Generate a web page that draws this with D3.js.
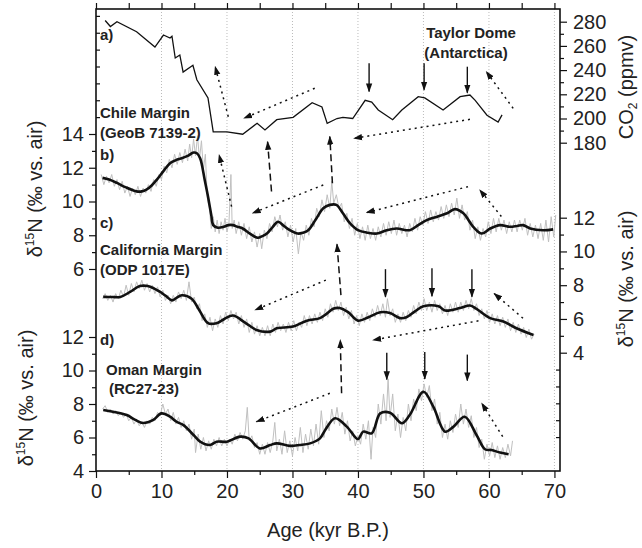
<!DOCTYPE html>
<html>
<head>
<meta charset="utf-8">
<script src="https://cdnjs.cloudflare.com/ajax/libs/d3/7.8.5/d3.min.js"></script>
<style>
body { margin: 0; background: #fff; }
svg { font-family: "Liberation Sans", Arial, sans-serif; }
.tick text { font-size: 20px; fill: #222; }
.tick line { stroke: #111; stroke-width: 1.2px; }
.lbl { font-size: 15px; font-weight: bold; fill: #222; }
.ttl { font-size: 20px; fill: #222; }
</style>
</head>
<body>
<script>
// a) Taylor Dome CO2 (ppmv)
var co2 = [[1.4,281],[2.2,276],[3.2,280],[6.2,271.7],[9.0,259],[10.3,269],[11.3,266.5],[11.6,268],[12.1,250],[12.8,252.5],[13.3,238.4],[14.8,244],[15.4,232],[17.1,217],[17.9,189],[20.0,189],[22.4,187],[24.6,196],[25.8,190.5],[27.6,199],[30.1,201],[33.0,213],[34.5,209.5],[35.3,196],[36.8,200],[37.7,201],[39.2,200],[41.1,215],[42.1,213.6],[43.1,207],[45.3,199],[46.7,207],[49.2,218],[50.2,217],[53.0,207],[55.6,218],[57.1,219.4],[57.9,215],[59.7,202.7],[61.4,197],[62.0,203]];

// b) Chile Margin d15N
var chileRaw = [[0.8,11.6],[1.2,11.0],[1.6,11.5],[2.0,11.1],[2.4,11.6],[2.8,10.9],[3.2,11.3],[3.6,10.7],[4.0,11.2],[4.4,10.5],[4.8,10.9],[5.2,10.3],[5.6,10.8],[6.0,10.4],[6.4,10.9],[6.8,10.3],[7.2,10.8],[7.6,10.5],[8.0,11.0],[8.4,10.6],[8.8,11.3],[9.2,10.9],[9.6,11.6],[10.0,11.3],[10.4,12.1],[10.8,11.7],[11.2,12.5],[11.6,12.0],[12.0,12.8],[12.4,12.2],[12.8,12.9],[13.2,12.3],[13.6,13.1],[14.0,12.4],[14.3,13.4],[14.6,12.6],[14.9,13.7],[15.2,12.7],[15.5,13.9],[15.8,12.5],[16.1,13.6],[16.4,11.9],[16.7,12.8],[17.0,10.2],[17.3,9.6],[17.6,8.4],[17.9,9.1],[18.2,8.2],[18.5,8.9],[18.8,8.1],[19.1,8.8],[19.4,8.3],[19.7,9.0],[20.0,8.2],[20.3,8.7],[20.6,11.6],[20.8,8.4],[21.1,8.9],[21.4,8.1],[21.8,8.8],[22.2,8.0],[22.6,8.7],[23.0,7.8],[23.4,8.5],[23.8,7.6],[24.2,8.2],[24.6,7.3],[25.0,8.1],[25.3,7.2],[25.7,8.3],[26.1,7.8],[26.5,8.7],[26.9,8.2],[27.3,9.1],[27.7,8.5],[28.1,9.2],[28.5,8.3],[28.9,8.8],[29.3,7.9],[29.7,8.6],[30.1,7.6],[30.5,8.4],[30.9,6.9],[31.3,8.2],[31.7,7.7],[32.1,8.6],[32.5,8.0],[32.9,9.0],[33.3,8.5],[33.7,9.6],[34.1,9.1],[34.5,10.1],[34.9,9.4],[35.3,10.4],[35.7,9.6],[36.0,11.2],[36.3,9.9],[36.7,10.4],[37.1,9.6],[37.5,9.9],[37.9,8.8],[38.3,9.3],[38.7,8.4],[39.1,9.0],[39.5,8.0],[39.9,8.7],[40.3,7.8],[40.7,8.5],[41.1,7.7],[41.5,8.6],[41.9,7.8],[42.3,8.4],[42.7,7.7],[43.1,8.5],[43.5,7.9],[43.9,8.7],[44.3,8.0],[44.7,8.8],[45.1,8.1],[45.5,8.9],[45.9,8.0],[46.3,8.7],[46.7,8.1],[47.1,8.6],[47.5,7.9],[47.9,8.7],[48.3,8.2],[48.7,9.0],[49.1,8.3],[49.5,9.1],[49.9,8.6],[50.3,9.4],[50.7,8.7],[51.1,9.5],[51.5,8.8],[51.9,9.4],[52.3,8.9],[52.7,9.7],[53.1,9.0],[53.5,9.8],[53.9,9.1],[54.3,9.9],[54.7,9.2],[55.1,10.2],[55.5,9.0],[55.9,9.8],[56.3,8.9],[56.7,9.4],[57.1,8.3],[57.5,8.9],[57.9,7.8],[58.3,8.5],[58.7,7.7],[59.1,8.4],[59.5,7.9],[59.9,8.8],[60.3,8.1],[60.7,9.0],[61.1,8.2],[61.5,9.0],[61.9,8.3],[62.3,8.9],[62.7,8.1],[63.1,8.8],[63.5,8.2],[63.9,8.9],[64.3,8.2],[64.7,8.9],[65.1,8.3],[65.5,9.0],[65.9,8.0],[66.3,8.7],[66.7,7.9],[67.1,8.6],[67.5,7.8],[67.9,8.7],[68.3,7.7],[68.7,8.9],[69.1,7.6],[69.5,9.1],[69.9,7.9],[70.2,9.2]];
var chileSmooth = [[1.0,11.4],[2.0,11.3],[3.2,11.1],[4.5,10.85],[6.2,10.6],[7.0,10.6],[7.7,10.7],[8.5,10.95],[9.3,11.3],[10.3,11.8],[11.3,12.27],[12.2,12.45],[13.1,12.56],[14.0,12.7],[14.9,12.9],[15.4,12.86],[15.9,12.56],[16.6,11.28],[17.1,10.3],[17.6,9.2],[17.9,8.6],[18.6,8.45],[19.5,8.5],[20.2,8.6],[20.9,8.6],[21.6,8.5],[22.4,8.4],[23.5,8.1],[24.7,7.85],[25.4,7.95],[26.1,8.1],[27.0,8.5],[27.8,8.8],[28.7,8.55],[29.6,8.3],[30.8,8.1],[31.6,8.15],[32.4,8.3],[33.5,8.9],[34.7,9.6],[35.7,9.8],[36.7,9.8],[37.7,9.3],[38.8,8.7],[40.0,8.3],[41.5,8.15],[42.9,8.1],[44.4,8.3],[45.9,8.4],[47.9,8.3],[49.2,8.6],[50.5,8.9],[52.1,9.1],[53.6,9.3],[54.8,9.55],[56.1,9.3],[57.6,8.5],[58.9,8.1],[60.2,8.4],[61.7,8.6],[63.2,8.5],[64.3,8.55],[65.2,8.6],[66.3,8.4],[68.3,8.3],[69.8,8.35]];

// c) California Margin d15N
var califRaw = [[1.0,7.2],[1.4,7.5],[1.8,7.1],[2.2,7.4],[2.6,7.0],[3.0,7.5],[3.4,7.2],[3.8,7.7],[4.2,7.3],[4.6,8.0],[5.0,7.4],[5.4,8.1],[5.8,7.6],[6.2,8.2],[6.6,7.8],[7.0,8.3],[7.4,7.7],[7.8,8.1],[8.2,7.6],[8.6,8.0],[9.0,7.5],[9.4,7.9],[9.8,7.3],[10.2,7.7],[10.6,7.1],[11.0,7.4],[11.4,6.9],[11.8,7.4],[12.2,7.0],[12.6,7.6],[13.0,7.2],[13.4,7.7],[13.8,7.1],[14.2,8.2],[14.6,7.0],[15.0,7.3],[15.4,6.6],[15.8,6.9],[16.2,5.9],[16.6,6.3],[17.0,5.5],[17.4,6.1],[17.8,5.3],[18.2,6.0],[18.6,5.5],[19.0,6.2],[19.4,5.7],[19.8,6.4],[20.2,5.9],[20.6,6.5],[21.0,6.0],[21.4,6.4],[21.8,5.7],[22.2,6.2],[22.6,5.5],[23.0,6.0],[23.4,5.2],[23.8,5.8],[24.2,5.1],[24.6,5.6],[25.0,5.0],[25.4,5.5],[25.8,5.0],[26.2,5.6],[26.6,5.0],[27.0,5.7],[27.4,5.2],[27.8,5.8],[28.2,5.3],[28.6,5.7],[29.0,5.2],[29.4,5.8],[29.8,5.3],[30.2,5.9],[30.6,5.3],[31.0,5.8],[31.4,5.5],[31.8,6.2],[32.2,5.6],[32.6,6.2],[33.0,5.7],[33.4,6.3],[33.8,5.8],[34.2,6.4],[34.6,5.9],[35.0,6.6],[35.4,6.1],[35.8,6.9],[36.2,6.4],[36.6,7.1],[37.0,6.5],[37.4,7.0],[37.8,6.2],[38.2,6.7],[38.6,6.0],[39.0,6.5],[39.4,5.7],[39.8,6.2],[40.2,5.6],[40.6,6.3],[41.0,5.8],[41.4,6.4],[41.8,5.9],[42.2,6.6],[42.6,6.1],[43.0,6.8],[43.4,6.2],[43.8,6.9],[44.2,6.1],[44.5,7.2],[44.9,6.2],[45.3,6.6],[45.7,5.8],[46.1,6.3],[46.5,5.8],[46.9,6.4],[47.3,5.9],[47.7,6.5],[48.1,6.1],[48.5,6.8],[48.9,6.3],[49.3,7.0],[49.7,6.5],[50.1,7.2],[50.5,6.5],[50.9,7.0],[51.3,6.4],[51.7,7.1],[52.1,6.5],[52.5,6.9],[52.9,6.3],[53.3,6.8],[53.7,6.2],[54.1,6.9],[54.5,6.4],[54.9,7.0],[55.3,6.4],[55.7,7.0],[56.1,6.5],[56.5,7.1],[56.9,6.6],[57.3,7.2],[57.7,6.5],[58.1,6.9],[58.5,6.2],[58.9,6.6],[59.3,6.0],[59.7,6.5],[60.1,5.8],[60.5,6.3],[60.9,5.7],[61.3,6.2],[61.7,5.6],[62.1,6.1],[62.5,5.5],[62.9,6.0],[63.3,5.3],[63.7,5.8],[64.1,5.2],[64.5,5.7],[64.9,5.1],[65.3,5.5],[65.7,4.9],[66.1,5.4],[66.5,4.8],[66.9,5.1]];
var califSmooth = [[1.1,7.31],[2.5,7.3],[3.7,7.3],[5.2,7.6],[6.7,7.95],[7.9,7.95],[8.9,7.8],[9.8,7.6],[10.7,7.35],[11.6,7.1],[12.3,7.25],[13.1,7.4],[14.6,7.2],[15.8,6.5],[17.1,5.75],[18.4,5.75],[19.6,6.0],[20.9,6.2],[22.7,5.8],[24.5,5.35],[26.6,5.25],[27.6,5.45],[30.1,5.55],[32.2,5.9],[34.2,6.05],[35.2,6.3],[36.2,6.6],[37.2,6.65],[38.5,6.4],[40.0,5.9],[41.6,6.1],[43.4,6.4],[44.9,6.35],[46.4,6.05],[47.4,6.1],[48.7,6.45],[50.0,6.75],[52.3,6.75],[53.3,6.5],[55.6,6.65],[57.1,6.8],[58.1,6.6],[60.2,6.05],[62.2,5.85],[64.2,5.45],[66.8,5.05]];

// d) Oman Margin d15N
var omanRaw = [[1.0,7.7],[1.4,7.9],[1.8,7.5],[2.2,7.7],[2.6,7.4],[3.0,7.6],[3.4,7.3],[3.8,7.5],[4.2,7.2],[4.6,7.4],[5.0,7.0],[5.4,7.2],[5.8,6.8],[6.2,7.1],[6.6,6.7],[7.0,6.9],[7.4,6.6],[7.8,7.0],[8.2,6.8],[8.6,7.2],[9.0,7.0],[9.4,7.5],[9.8,7.3],[10.2,8.0],[10.6,7.4],[11.0,7.7],[11.4,7.0],[11.8,7.5],[12.2,6.8],[12.6,7.2],[13.0,6.6],[13.4,7.0],[13.8,6.4],[14.2,6.8],[14.6,5.9],[15.0,6.5],[15.2,5.1],[15.6,6.2],[16.0,5.3],[16.4,6.0],[16.8,5.2],[17.2,5.8],[17.6,5.3],[18.0,5.9],[18.4,5.5],[18.8,6.0],[19.2,5.5],[19.6,5.9],[20.0,5.5],[20.4,5.9],[20.8,5.6],[21.2,6.2],[21.6,5.8],[22.0,6.3],[22.4,5.9],[22.8,6.4],[23.1,7.8],[23.4,5.8],[23.8,6.1],[24.2,5.4],[24.6,5.7],[25.0,5.0],[25.4,5.6],[25.8,5.0],[26.2,5.7],[26.6,5.1],[27.0,5.8],[27.3,6.9],[27.6,5.2],[28.0,5.9],[28.4,5.0],[28.8,6.4],[29.2,5.1],[29.6,5.8],[30.0,4.9],[30.4,6.0],[30.8,5.2],[31.2,6.6],[31.6,5.1],[32.0,6.2],[32.4,5.3],[32.8,6.5],[33.2,5.5],[33.6,6.8],[34.0,5.6],[34.4,7.6],[34.8,6.0],[35.2,7.0],[35.6,6.4],[36.0,7.7],[36.4,6.8],[36.8,7.8],[37.2,6.7],[37.6,7.5],[38.0,6.2],[38.4,7.0],[38.8,5.8],[39.2,6.4],[39.6,5.5],[40.0,6.1],[40.4,5.6],[40.8,6.8],[41.2,5.9],[41.6,7.0],[42.0,4.7],[42.3,6.6],[42.7,6.0],[43.1,8.0],[43.5,6.8],[43.9,8.6],[44.3,7.0],[44.6,9.5],[44.9,7.2],[45.3,8.6],[45.7,6.4],[46.1,7.4],[46.5,6.0],[46.9,7.2],[47.3,6.4],[47.7,8.0],[48.1,7.0],[48.5,8.3],[48.9,7.6],[49.3,8.9],[49.7,8.2],[50.1,9.2],[50.5,8.4],[50.9,9.1],[51.3,7.6],[51.7,8.3],[52.1,6.8],[52.5,7.5],[52.9,6.0],[53.3,6.8],[53.7,5.9],[54.1,7.0],[54.5,6.3],[54.9,7.4],[55.3,6.6],[55.7,8.0],[56.1,6.8],[56.5,7.7],[56.9,6.6],[57.3,7.3],[57.7,6.0],[58.1,6.6],[58.5,5.4],[58.9,5.9],[59.3,4.7],[59.7,5.6],[60.1,4.9],[60.5,5.7],[60.9,4.8],[61.3,5.5],[61.7,4.7],[62.1,5.4],[62.5,4.8],[62.9,5.6],[63.3,4.9],[63.6,5.8]];
var omanSmooth = [[1.1,7.64],[2.6,7.54],[4.7,7.34],[6.0,7.05],[7.2,6.87],[8.7,7.04],[10.0,7.44],[11.3,7.24],[12.3,6.94],[13.3,6.75],[14.9,6.15],[15.9,5.75],[17.4,5.55],[18.4,5.75],[20.0,5.75],[22.0,6.05],[23.3,5.95],[25.0,5.35],[26.6,5.55],[27.6,5.65],[29.6,5.5],[31.1,5.55],[32.7,5.65],[34.2,5.95],[35.0,6.45],[36.5,7.15],[38.3,6.65],[40.0,5.9],[40.8,6.35],[42.1,6.25],[43.4,7.44],[44.9,7.48],[46.7,6.85],[47.9,7.34],[50.0,8.73],[51.5,7.84],[53.3,6.35],[54.6,6.65],[56.3,7.24],[58.1,6.15],[59.4,5.3],[60.4,5.25],[61.7,5.1],[63.0,5.0]];

// tick values
var ageTicks = [0, 10, 20, 30, 40, 50, 60, 70];
var ageMinor = [5, 15, 25, 35, 45, 55, 65];
var ageTop = [0, 5, 10, 15, 20, 25, 30, 35, 40, 45, 50, 55, 60, 65, 70];
var co2Ticks = [180, 200, 220, 240, 260, 280];
var co2Minor = [190, 210, 230, 250, 270];

// annotation arrows (tail -> head, in the units of the named axis)
var dottedArrows = [
  {ax:"co2", x1:20.2, y1:201.5, x2:18.2, y2:242.8},
  {ax:"co2", x1:33.4, y1:225, x2:22.6, y2:200.2},
  {ax:"b", x1:20.7, y1:9.7, x2:18.8, y2:12.76},
  {ax:"b", x1:34.7, y1:10.98, x2:23.9, y2:9.31},
  {ax:"co2", x1:63.7, y1:208.4, x2:59.6, y2:238.7},
  {ax:"co2", x1:57.1, y1:199.3, x2:39.4, y2:183.6},
  {ax:"b", x1:56.8, y1:10.88, x2:41.3, y2:9.34},
  {ax:"b", x1:61.9, y1:9.11, x2:58.6, y2:10.69},
  {ax:"c", x1:35.1, y1:8.3, x2:24.3, y2:6.53},
  {ax:"c", x1:65.2, y1:6.04, x2:60.8, y2:7.51},
  {ax:"c", x1:58.4, y1:5.89, x2:42.3, y2:4.75},
  {ax:"d", x1:62.1, y1:6.05, x2:58.9, y2:8.04},
  {ax:"d", x1:35.7, y1:8.64, x2:24.5, y2:6.94}
];
var dashedArrows = [
  {ax:"b", x1:26.8, y1:10.59, x2:26.2, y2:13.54},
  {ax:"b", x1:36.1, y1:11.08, x2:35.7, y2:13.85},
  {ax:"c", x1:37.4, y1:7.41, x2:36.8, y2:10.43},
  {ax:"d", x1:37.5, y1:8.64, x2:37.3, y2:11.82}
];
var solidArrows = [
  {ax:"co2", x1:41.7, y1:245.6, x2:41.7, y2:222.3},
  {ax:"co2", x1:50.1, y1:245.6, x2:50.1, y2:223.7},
  {ax:"co2", x1:56.7, y1:242.8, x2:56.7, y2:221.3},
  {ax:"c", x1:44.2, y1:8.95, x2:44.2, y2:7.31},
  {ax:"c", x1:51.3, y1:9.0, x2:51.3, y2:7.35},
  {ax:"c", x1:57.4, y1:8.95, x2:57.4, y2:7.31},
  {ax:"d", x1:44.4, y1:11.06, x2:44.4, y2:9.47},
  {ax:"d", x1:50.2, y1:11.1, x2:50.2, y2:9.5},
  {ax:"d", x1:56.7, y1:10.95, x2:56.7, y2:9.4}
];

var frame = {left: 96, right: 560, top: 9, bottom: 471};

var x = d3.scaleLinear().domain([0, 70.85]).range([frame.left, frame.right]);
var yCO2 = d3.scaleLinear().domain([180, 280]).range([142.7, 21.7]);
var yB = d3.scaleLinear().domain([6, 14]).range([269, 134]);
var yC = d3.scaleLinear().domain([4, 12]).range([352.7, 217.7]);
var yD = d3.scaleLinear().domain([4, 12]).range([471, 337]);
var yAx = {co2: yCO2, b: yB, c: yC, d: yD};

var svg = d3.select("body").append("svg").attr("width", 642).attr("height", 548);

svg.append("defs").append("marker")
    .attr("id", "head").attr("viewBox", "0 0 10 10")
    .attr("refX", 9).attr("refY", 5)
    .attr("markerWidth", 9).attr("markerHeight", 9)
    .attr("markerUnits", "userSpaceOnUse").attr("orient", "auto")
  .append("path").attr("d", "M0,1.5L10,5L0,8.5Z").attr("fill", "#111");

// grid
svg.append("g").selectAll("line").data(ageTicks.slice(1)).enter().append("line")
    .attr("x1", function(d) { return x(d); }).attr("x2", function(d) { return x(d); })
    .attr("y1", frame.top).attr("y2", frame.bottom)
    .attr("stroke", "#bbb").attr("stroke-width", 1).attr("stroke-dasharray", "1,2");

function lineFor(sc, curve) {
    return d3.line().curve(curve || d3.curveLinear)
        .x(function(d) { return x(d[0]); }).y(function(d) { return sc(d[1]); });
}

var raws = [[chileRaw, yB], [califRaw, yC], [omanRaw, yD]];
raws.forEach(function(r) {
    svg.append("path").datum(r[0]).attr("d", lineFor(r[1]))
        .attr("fill", "none").attr("stroke", "#c0c0c0").attr("stroke-width", 1);
});
var smooths = [[chileSmooth, yB], [califSmooth, yC], [omanSmooth, yD]];
smooths.forEach(function(r) {
    svg.append("path").datum(r[0]).attr("d", lineFor(r[1], d3.curveCatmullRom.alpha(0.5)))
        .attr("fill", "none").attr("stroke", "#111").attr("stroke-width", 2.6)
        .attr("stroke-linejoin", "round");
});
svg.append("path").datum(co2).attr("d", lineFor(yCO2))
    .attr("fill", "none").attr("stroke", "#111").attr("stroke-width", 1.3);

// arrows
function drawArrows(list, dash, w) {
    svg.append("g").selectAll("line").data(list).enter().append("line")
        .attr("x1", function(d) { return x(d.x1); })
        .attr("y1", function(d) { return yAx[d.ax](d.y1); })
        .attr("x2", function(d) { return x(d.x2); })
        .attr("y2", function(d) { return yAx[d.ax](d.y2); })
        .attr("stroke", "#111").attr("stroke-width", w)
        .attr("stroke-dasharray", dash)
        .attr("marker-end", "url(#head)");
}
drawArrows(dottedArrows, "2,4", 1.5);
drawArrows(dashedArrows, "7,4", 1.5);
drawArrows(solidArrows, null, 1.4);

// frame
svg.append("rect").attr("x", frame.left).attr("y", frame.top)
    .attr("width", frame.right - frame.left).attr("height", frame.bottom - frame.top)
    .attr("fill", "none").attr("stroke", "#111").attr("stroke-width", 1.6);

function addAxis(axis, tx, ty) {
    var g = svg.append("g").attr("transform", "translate(" + tx + "," + ty + ")").call(axis);
    g.select(".domain").remove();
    return g;
}
// Add the X Axis
addAxis(d3.axisBottom(x).tickValues(ageTicks).tickSize(7).tickPadding(6).tickFormat(d3.format("d")), 0, frame.bottom);
addAxis(d3.axisBottom(x).tickValues(ageMinor).tickSize(4).tickFormat(""), 0, frame.bottom);
addAxis(d3.axisBottom(x).tickValues(ageTop).tickSize(-6).tickFormat(""), 0, frame.top);

// Add the Y Axes
addAxis(d3.axisLeft(yB).tickValues([6, 8, 10, 12, 14]).tickSize(7).tickPadding(5), frame.left, 0);
addAxis(d3.axisLeft(yB).tickValues([7, 9, 11, 13]).tickSize(4).tickFormat(""), frame.left, 0);
addAxis(d3.axisLeft(yB).tickValues([15, 16, 17, 18, 19, 20, 21]).tickSize(-4).tickFormat(""), frame.left, 0);
addAxis(d3.axisLeft(yD).tickValues([4, 6, 8, 10, 12]).tickSize(7).tickPadding(5), frame.left, 0);
addAxis(d3.axisLeft(yD).tickValues([5, 7, 9, 11]).tickSize(4).tickFormat(""), frame.left, 0);

addAxis(d3.axisRight(yCO2).tickValues(co2Ticks).tickSize(7).tickPadding(6), frame.right, 0);
addAxis(d3.axisRight(yCO2).tickValues(co2Minor).tickSize(4).tickFormat(""), frame.right, 0);
addAxis(d3.axisRight(yC).tickValues([4, 6, 8, 10, 12]).tickSize(7).tickPadding(6), frame.right, 0);
addAxis(d3.axisRight(yC).tickValues([5, 7, 9, 11]).tickSize(4).tickFormat(""), frame.right, 0);
addAxis(d3.axisRight(yC).tickValues([3, 2, 1, 0, -1]).tickSize(-4).tickFormat(""), frame.right, 0);

// panel labels
var labels = [
    ["a)", 100, 40], ["Chile Margin", 100, 118], ["(GeoB 7139-2)", 100, 138], ["b)", 100, 160],
    ["c)", 100, 228], ["California Margin", 100, 255], ["(ODP 1017E)", 100, 275], ["d)", 100, 345],
    ["Oman Margin", 106, 375], ["(RC27-23)", 109, 394]
];
svg.append("g").selectAll("text").data(labels).enter().append("text")
    .attr("class", "lbl").attr("x", function(d) { return d[1]; }).attr("y", function(d) { return d[2]; })
    .text(function(d) { return d[0]; });
svg.append("text").attr("class", "lbl").attr("x", 471).attr("y", 38).attr("text-anchor", "middle").text("Taylor Dome");
svg.append("text").attr("class", "lbl").attr("x", 466).attr("y", 58).attr("text-anchor", "middle").text("(Antarctica)");

// axis titles
svg.append("text").attr("class", "ttl").attr("x", 328).attr("y", 537).attr("text-anchor", "middle").text("Age (kyr B.P.)");

function d15Title(tx, ty) {
    var t = svg.append("text").attr("class", "ttl").attr("text-anchor", "middle")
        .attr("transform", "translate(" + tx + "," + ty + ") rotate(-90)");
    t.append("tspan").text("\u03b4");
    t.append("tspan").attr("font-size", "12px").attr("dy", -8).text("15");
    t.append("tspan").attr("dy", 8).text("N (\u2030 vs. air)");
}
d15Title(42, 189);
d15Title(33, 398);
d15Title(633, 279);

var ct = svg.append("text").attr("class", "ttl").attr("text-anchor", "middle")
    .attr("transform", "translate(633,87) rotate(-90)");
ct.append("tspan").text("CO");
ct.append("tspan").attr("font-size", "12px").attr("dy", 4).text("2");
ct.append("tspan").attr("dy", -4).text(" (ppmv)");
</script>
</body>
</html>
